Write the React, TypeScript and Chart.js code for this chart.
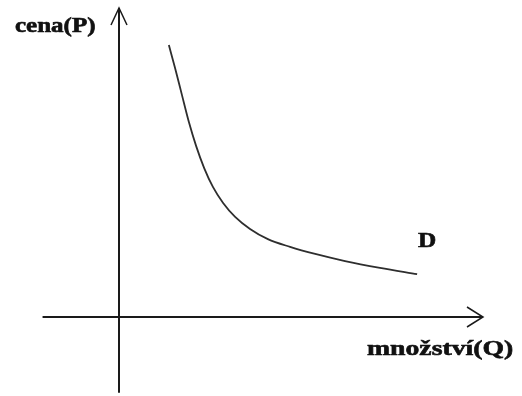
import React, { useEffect, useRef } from "react";
import { Chart, registerables } from "chart.js";

Chart.register(...registerables);

// Demand curve D: quantity (Q) vs price (P), in chart units
const quantity = [1.37, 1.54, 1.73, 1.92, 2.12, 2.34, 2.58, 2.86, 3.19, 3.6, 4.09, 4.7, 5.39, 6.21, 7.17, 8.19];
const price = [8.8, 8.06, 7.18, 6.31, 5.53, 4.82, 4.21, 3.69, 3.24, 2.85, 2.52, 2.27, 2.04, 1.81, 1.59, 1.39];

const yAxisLabel = "cena(P)";
const xAxisLabel = "množství(Q)";
const curveLabel = "D";

// axis extents in data units
const xAxisRange = [-2.1, 10];
const yAxisRange = [-2.45, 10];

const axesPlugin = {
  id: "econAxes",
  afterDatasetsDraw(chart: any) {
    const { ctx } = chart;
    const xs = chart.scales.x;
    const ys = chart.scales.y;
    const x0 = xs.getPixelForValue(0);
    const y0 = ys.getPixelForValue(0);
    const xL = xs.getPixelForValue(xAxisRange[0]);
    const xR = xs.getPixelForValue(xAxisRange[1]);
    const yB = ys.getPixelForValue(yAxisRange[0]);
    const yT = ys.getPixelForValue(yAxisRange[1]);
    ctx.save();
    ctx.strokeStyle = "#1a1a1a";
    ctx.lineWidth = 2;
    ctx.lineCap = "butt";
    ctx.beginPath();
    ctx.moveTo(xL, y0);
    ctx.lineTo(xR, y0);
    ctx.moveTo(x0, yB);
    ctx.lineTo(x0, yT);
    ctx.stroke();
    // arrowheads
    ctx.lineWidth = 1.5;
    ctx.beginPath();
    ctx.moveTo(xR - 16, y0 - 10);
    ctx.lineTo(xR, y0);
    ctx.lineTo(xR - 16, y0 + 10);
    ctx.moveTo(x0 - 8, yT + 17);
    ctx.lineTo(x0, yT);
    ctx.lineTo(x0 + 8, yT + 17);
    ctx.stroke();

    const drawText = (t: string, x: number, y: number, size: number, sx: number) => {
      ctx.save();
      ctx.translate(x, y);
      ctx.scale(sx, 1);
      ctx.font = `bold ${size}px 'Liberation Serif', 'DejaVu Serif', serif`;
      ctx.fillStyle = "#111";
      ctx.strokeStyle = "#111";
      ctx.lineWidth = 0.6;
      ctx.textBaseline = "alphabetic";
      ctx.textAlign = "left";
      ctx.fillText(t, 0, 0);
      ctx.strokeText(t, 0, 0);
      ctx.restore();
    };
    drawText(yAxisLabel, 15, 32, 20, 1.25);
    drawText(xAxisLabel, 367, 355, 21, 1.32);
    drawText(curveLabel, 418, 247, 22, 1.15);
    ctx.restore();
  },
};

export default function App() {
  const ref = useRef<HTMLCanvasElement | null>(null);
  useEffect(() => {
    document.body.style.margin = "0";
    const canvas = ref.current;
    if (!canvas) return;
    const chart = new Chart(canvas, {
      type: "line",
      data: {
        datasets: [
          {
            label: curveLabel,
            data: quantity.map((q, i) => ({ x: q, y: price[i] })),
            borderColor: "#2e2e2e",
            borderWidth: 1.8,
            pointRadius: 0,
            fill: false,
            cubicInterpolationMode: "monotone",
          },
        ],
      },
      options: {
        animation: false,
        responsive: false,
        devicePixelRatio: 1,
        layout: { padding: { left: 119, right: 39, top: 8, bottom: 79 } },
        plugins: { legend: { display: false }, tooltip: { enabled: false } },
        scales: {
          x: { type: "linear", min: 0, max: 10, display: false },
          y: { type: "linear", min: 0, max: 10, display: false },
        },
      },
      plugins: [axesPlugin],
    });
    return () => chart.destroy();
  }, []);
  return (
    <div style={{ position: "fixed", left: 0, top: 0, width: 522, height: 396, background: "#fff" }}>
      <canvas ref={ref} width={522} height={396} />
    </div>
  );
}
